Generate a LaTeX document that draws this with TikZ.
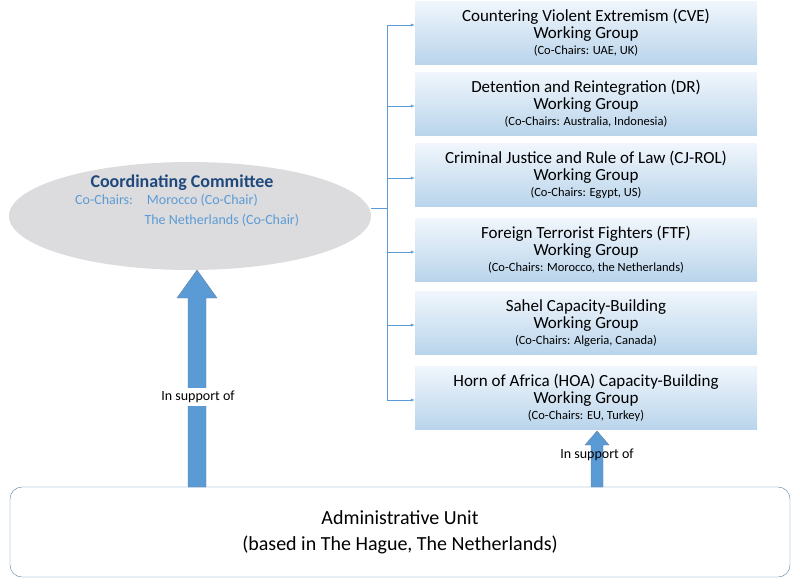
\documentclass[tikz,border=0pt]{standalone}
\usepackage{fontspec}
\setmainfont{Carlito}
\usetikzlibrary{shapes.geometric, arrows}
\definecolor{wgtop}{RGB}{240,246,252}
\definecolor{wgbot}{RGB}{185,212,235}
\definecolor{lineblue}{RGB}{91,155,213}
\definecolor{ccblue}{RGB}{31,73,125}
\definecolor{ccgray}{RGB}{220,220,222}
\newcommand\chairfont{\fontsize{12.5}{14}\selectfont}
\tikzstyle{group} = [rectangle,
	minimum width=342pt,
	minimum height=63pt,
	align=center,
	inner sep=0pt,
	top color=wgtop,
	bottom color=wgbot,
	font=\fontsize{17}{17}\selectfont
	]
\tikzstyle{arrow} = [draw=lineblue,->,>=latex]
\tikzstyle{support} = [draw=ccblue!70, fill=lineblue]

\begin{document}
\begin{tikzpicture}[x=1pt,y=-1pt]
\useasboundingbox (0,0) rectangle (800,587);

\node (cc) [ellipse, fill=ccgray, minimum width=362pt, minimum height=108pt] at (190,216) {};
\node (cctitle) [text=ccblue, font=\bfseries\fontsize{18}{18}\selectfont] at (182,183) {Coordinating Committee};
\node (cchairs) [text=lineblue, font=\fontsize{14}{20}\selectfont, anchor=north west, align=left, inner sep=0pt] at (75,194)
	{Co-Chairs:\hspace{1em}Morocco (Co-Chair)\\\hspace{4.95em}The Netherlands (Co-Chair)};

\node (cve) [group] at (586,33) {Countering Violent Extremism (CVE)\\Working Group\\[-1pt]{\chairfont (Co-Chairs: UAE, UK)}};
\node (dr) [group] at (586,104) {Detention and Reintegration (DR)\\Working Group\\[-1pt]{\chairfont (Co-Chairs: Australia, Indonesia)}};
\node (cjrol) [group] at (586,175) {Criminal Justice and Rule of Law (CJ-ROL)\\Working Group\\[-1pt]{\chairfont (Co-Chairs: Egypt, US)}};
\node (ftf) [group] at (586,250) {Foreign Terrorist Fighters (FTF)\\Working Group\\[-1pt]{\chairfont (Co-Chairs: Morocco, the Netherlands)}};
\node (sahel) [group] at (586,323) {Sahel Capacity-Building\\Working Group\\[-1pt]{\chairfont (Co-Chairs: Algeria, Canada)}};
\node (hoa) [group] at (586,398) {Horn of Africa (HOA) Capacity-Building\\Working Group\\[-1pt]{\chairfont (Co-Chairs: EU, Turkey)}};

\node (admin) [rectangle, rounded corners=12pt, draw=lineblue!80!black, minimum width=780pt, minimum height=90pt,
	align=center, font=\fontsize{20}{26}\selectfont] at (400,532)
	{Administrative Unit\\(based in The Hague, The Netherlands)};

\coordinate (trunk) at (387,208);
\draw [draw=lineblue] (cc.east |- trunk) -- (trunk);
\draw [draw=lineblue] (387,25) -- (387,400);
\foreach \g/\y in {cve/25, dr/106, cjrol/178, ftf/252, sahel/325, hoa/400}
	\draw [arrow] (387,\y) -- (\g.west |- 0,\y);

% support arrows
\draw [support] (188,487) -- (188,298) -- (177,298) -- (197,270) -- (217,298) -- (206,298) -- (206,487) -- cycle;
\draw [support] (591,487) -- (591,445) -- (585,445) -- (597,431) -- (609,445) -- (603,445) -- (603,487) -- cycle;
\node (lblcc) [fill=white, font=\fontsize{14}{16}\selectfont, inner sep=3pt] at (198,397) {In support of};
\node (lblhoa) [font=\fontsize{14}{16}\selectfont] at (597,455) {In support of};
\end{tikzpicture}
\end{document}
